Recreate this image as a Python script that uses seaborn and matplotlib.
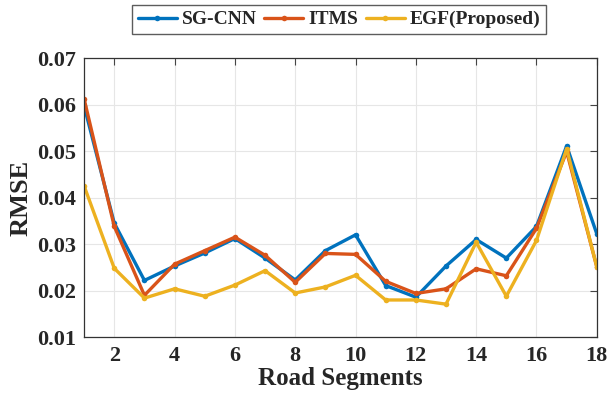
import numpy as np
import pandas as pd
import matplotlib
matplotlib.use("Agg")
import matplotlib.pyplot as plt
import seaborn as sns

segments = list(range(1, 19))
sg_cnn = [0.0597, 0.0345, 0.0222, 0.0253, 0.0281, 0.0312, 0.0270, 0.0223, 0.0286, 0.0320,
          0.0211, 0.0186, 0.0253, 0.0310, 0.0270, 0.0338, 0.0511, 0.0322]
itms = [0.0612, 0.0338, 0.0190, 0.0257, 0.0286, 0.0315, 0.0276, 0.0218, 0.0280, 0.0278,
        0.0220, 0.0194, 0.0204, 0.0247, 0.0232, 0.0334, 0.0499, 0.0251]
egf = [0.0425, 0.0248, 0.0184, 0.0204, 0.0188, 0.0212, 0.0243, 0.0195, 0.0208, 0.0233,
       0.0180, 0.0180, 0.0171, 0.0304, 0.0188, 0.0308, 0.0505, 0.0251]
series_names = ["SG-CNN", "ITMS", "EGF(Proposed)"]
colors = ["#0072BD", "#D95319", "#EDB120"]
x_ticks = [2, 4, 6, 8, 10, 12, 14, 16, 18]
y_ticks = [0.01, 0.02, 0.03, 0.04, 0.05, 0.06, 0.07]

df = pd.DataFrame({
    "Road Segments": segments * 3,
    "RMSE": sg_cnn + itms + egf,
    "Method": [series_names[0]] * 18 + [series_names[1]] * 18 + [series_names[2]] * 18,
})

sns.set_style("white")
plt.rcParams["font.family"] = ["Liberation Serif", "DejaVu Serif"]
plt.rcParams["font.weight"] = "bold"

fig = plt.figure(figsize=(6.14, 4.0), dpi=100)
ax = fig.add_axes([0.137, 0.157, 0.835, 0.698])

sns.lineplot(data=df, x="Road Segments", y="RMSE", hue="Method",
             hue_order=series_names, palette=colors, marker="o",
             markersize=4, markeredgewidth=0, linewidth=2.4,
             ax=ax, legend=True)

ax.set_xlim(1, 18)
ax.set_ylim(0.01, 0.07)
ax.set_xticks(x_ticks)
ax.set_yticks(y_ticks)
ax.set_yticklabels([f"{v:.2f}" for v in y_ticks])
ax.grid(True, color="#e6e6e6", linewidth=0.8)
ax.tick_params(direction="in", length=5, width=0.8, color="#444444",
               top=True, right=True, labelsize=16, pad=6)
for lab in ax.get_xticklabels() + ax.get_yticklabels():
    lab.set_fontweight("bold")
for sp in ax.spines.values():
    sp.set_color("#333333")
    sp.set_linewidth(0.9)

ax.set_xlabel("Road Segments", fontsize=18, fontweight="bold", labelpad=1)
ax.set_ylabel("RMSE", fontsize=19, fontweight="bold", labelpad=3)

handles, labels = ax.get_legend_handles_labels()
ax.legend(handles, labels, loc="lower center", bbox_to_anchor=(0.497, 1.085),
          ncol=3, frameon=True, fancybox=False, edgecolor="#333333",
          prop={"size": 14, "weight": "bold"}, handlelength=2.0,
          handletextpad=0.25, columnspacing=0.4, borderpad=0.3,
          borderaxespad=0)

fig.savefig("out.png", dpi=100)
